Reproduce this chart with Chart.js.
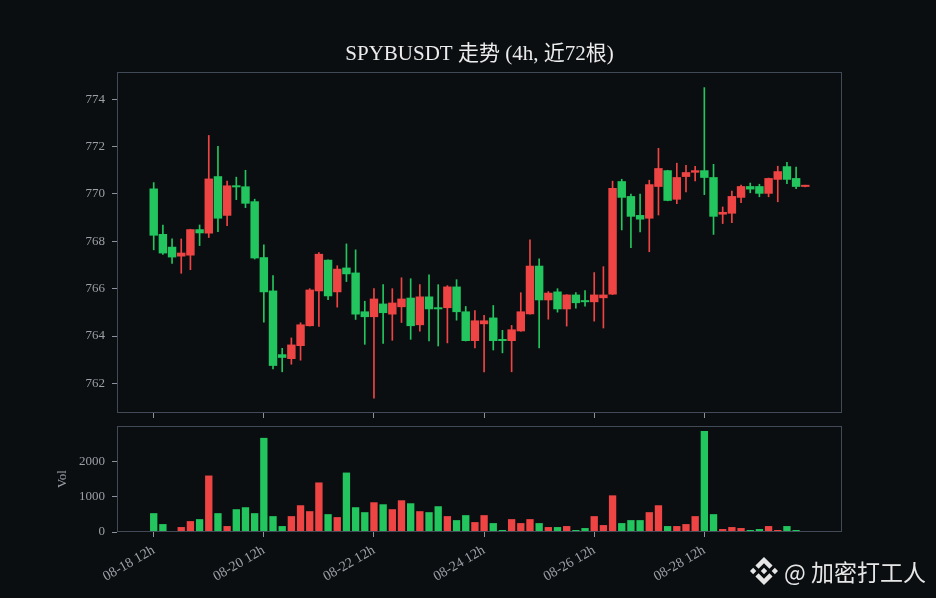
<!DOCTYPE html>
<html>
<head>
<meta charset="utf-8">
<script src="https://cdn.jsdelivr.net/npm/chart.js@4.4.1/dist/chart.umd.min.js"></script>
<style>
  html, body { margin:0; padding:0; background:#0b0e11; width:936px; height:598px; overflow:hidden; }
  canvas { position:absolute; left:0; }
  #c1 { top:0; }
  #c2 { top:420px; }
  #wm { position:absolute; left:750px; top:557px; height:28px; display:flex; align-items:center; color:#e6e6e6;
        font-family:'Noto Sans CJK SC','Noto Sans',sans-serif; font-size:23px; line-height:1; white-space:nowrap; }
  #wm svg { width:28px; height:28px; margin-right:6px; }
</style>
</head>
<body>
<canvas id="c1" width="936" height="420"></canvas>
<canvas id="c2" width="936" height="178"></canvas>
<div id="wm"><svg viewBox="0 0 24 24"><path fill="#e6e6e6" d="M16.624 13.9202l2.7175 2.7154-7.353 7.353-7.353-7.352 2.7175-2.7164 4.6355 4.6595 4.6356-4.6595zm4.6366-4.6366L24 12l-2.7154 2.7164L18.5682 12l2.6924-2.7164zm-9.272.001l2.7163 2.6914-2.7164 2.7174v-.001L9.2721 12l2.7164-2.7154zm-9.2722-.001L5.4088 12l-2.6914 2.6924L0 12l2.7164-2.7164zM11.9885.0115l7.353 7.329-2.7174 2.7154-4.6356-4.6356-4.6355 4.6595-2.7174-2.7154 7.353-7.353z"/></svg><span>@ 加密打工人</span></div>
<script>
// ---- data (72 x 4h candles) ----
const opens  = [770.23,768.31,767.77,767.36,767.40,768.51,768.33,770.75,769.08,770.36,
                770.32,769.69,767.33,765.92,763.23,763.03,763.58,764.42,765.89,767.22,
                765.85,766.89,766.68,765.04,764.80,765.37,764.91,765.22,765.62,764.46,
                765.67,765.20,765.18,766.09,765.04,763.79,764.50,764.78,763.86,763.79,
                764.20,764.92,766.97,765.51,765.88,765.13,765.75,765.51,765.43,765.60,
                765.75,770.54,769.91,769.11,768.96,770.30,771.00,769.76,770.72,770.90,
                771.00,770.71,769.13,769.17,769.84,770.33,770.33,770.01,770.60,771.17,
                770.67,770.30];
const highs  = [770.48,768.69,768.10,768.10,768.51,768.69,772.47,772.01,770.54,770.71,
                771.00,769.78,767.85,766.55,763.48,763.92,764.56,766.00,767.52,767.22,
                766.97,767.89,767.64,765.47,766.00,766.17,766.00,766.46,766.42,766.17,
                766.59,766.17,766.13,766.38,765.25,765.08,764.87,765.29,764.24,764.45,
                765.83,768.06,767.26,765.88,766.00,765.75,765.83,765.92,766.68,766.93,
                770.54,770.62,769.99,769.99,770.58,771.93,771.00,771.30,771.21,771.17,
                774.49,771.25,769.45,770.12,770.37,770.46,770.41,770.67,771.17,771.34,
                771.13,770.37];
const lows   = [767.64,767.45,767.07,766.65,766.80,767.82,768.16,768.41,768.66,769.76,
                769.42,767.25,764.59,762.61,762.49,762.81,762.98,764.42,764.41,765.54,
                765.22,766.30,764.70,763.65,761.38,763.69,763.82,764.57,763.86,764.21,
                763.79,763.58,763.71,764.67,763.79,763.50,762.49,763.41,763.29,762.49,
                764.20,764.92,763.50,764.71,765.01,764.42,765.18,765.26,764.63,764.34,
                765.75,768.48,767.73,768.40,767.56,769.11,769.71,769.59,770.09,770.55,
                769.97,768.29,768.75,768.79,769.63,770.05,769.88,769.88,769.67,770.43,
                770.22,770.30];
const closes = [768.24,767.49,767.32,767.52,768.51,768.34,770.65,768.96,770.36,770.28,
                769.59,767.28,765.85,762.74,763.08,763.64,764.49,765.96,767.47,765.68,
                766.84,766.61,764.91,764.80,765.58,764.97,765.41,765.58,764.42,765.67,
                765.13,765.13,766.09,765.01,763.79,764.66,764.66,763.79,763.79,764.28,
                765.04,766.97,765.51,765.83,765.13,765.75,765.39,765.43,765.75,765.75,
                770.25,769.84,769.04,768.92,770.41,771.09,769.71,770.71,770.92,771.00,
                770.68,769.04,769.24,769.91,770.33,770.19,770.01,770.67,770.96,770.60,
                770.30,770.37];
const volumes = [533,224,28,140,308,364,1598,533,168,645,
                 701,533,2664,449,168,449,757,589,1402,505,
                 421,1682,701,561,841,785,645,897,813,589,
                 561,729,449,336,477,280,477,252,56,364,
                 252,364,252,140,140,168,56,112,449,196,
                 1037,252,336,336,561,757,168,168,224,449,
                 2860,505,84,140,112,56,84,168,56,168,
                 56,5];
const tickIndex  = [0,12,24,36,48,60];
const tickLabels = ['08-18 12h','08-20 12h','08-22 12h','08-24 12h','08-26 12h','08-28 12h'];
const priceTicks = [762,764,766,768,770,772,774];
const volTicks   = [0,1000,2000];
const titleText  = 'SPYBUSDT 走势 (4h, 近72根)';

// ---- styling ----
const UP = '#ef4444', DOWN = '#22c55e';
const TXT = '#9aa0a6', TICK = '#8b929c', BOX = '#434a57';
Chart.defaults.font.family = "'Liberation Serif','Noto Sans CJK SC',serif";
Chart.defaults.color = TXT;

const colors = closes.map((c,i) => c >= opens[i] ? UP : DOWN);
const bodyData = opens.map((o,i) => ({x:i, y:[Math.min(o,closes[i]), Math.max(o,closes[i])]}));
const wickData = lows.map((l,i) => ({x:i, y:[l, highs[i]]}));
const volData  = volumes.map((v,i) => ({x:i, y:v}));

const boxPlugin = {
  id:'box',
  afterDraw(chart){
    const {ctx, chartArea:a} = chart;
    ctx.save();
    ctx.strokeStyle = BOX; ctx.lineWidth = 1;
    ctx.strokeRect(Math.round(a.left)+0.5, Math.round(a.top)+0.5, Math.round(a.right-a.left)-1, Math.round(a.bottom-a.top)-1);
    ctx.restore();
  }
};
function zeroPad(s){ s.paddingTop=0; s.paddingBottom=0; s.paddingLeft=0; s.paddingRight=0; }

const xBase = {
  type:'linear', min:-4, max:75, offset:false,
  grid:{display:true, drawOnChartArea:false, drawTicks:true, tickLength:5, color:TICK, offset:false},
  border:{display:false},
  afterBuildTicks: s => { s.ticks = tickIndex.map(v => ({value:v})); }
};

new Chart(document.getElementById('c1'), {
  type:'bar',
  data:{ datasets:[
    {label:'wick', data:wickData, backgroundColor:colors, barThickness:1, grouped:false, order:2},
    {label:'body', data:bodyData, backgroundColor:colors, barPercentage:0.92, categoryPercentage:1, grouped:false, order:1, minBarLength:2}
  ]},
  options:{
    responsive:false, animation:false,
    layout:{padding:{left:0, right:94, top:0, bottom:0}},
    plugins:{
      legend:{display:false}, tooltip:{enabled:false},
      title:{display:true, fullSize:false, text:titleText, color:'#ececec', font:{size:21, weight:'normal'}, padding:{top:42, bottom:4.8}}
    },
    scales:{
      x: Object.assign({}, xBase, {
        ticks:{display:false},
        afterFit: s => { s.height = 7; zeroPad(s); }
      }),
      y:{
        min:760.75, max:775.15,
        grid:{drawOnChartArea:false, tickLength:5, color:TICK},
        border:{display:false},
        ticks:{color:TXT, font:{size:13}, padding:7},
        afterBuildTicks: s => { s.ticks = priceTicks.map(v => ({value:v})); },
        afterFit: s => { s.width = 117; zeroPad(s); }
      }
    }
  },
  plugins:[boxPlugin]
});

new Chart(document.getElementById('c2'), {
  type:'bar',
  data:{ datasets:[
    {label:'Vol', data:volData, backgroundColor:colors, barPercentage:0.8, categoryPercentage:1}
  ]},
  options:{
    responsive:false, animation:false,
    layout:{padding:{left:0, right:94, top:6, bottom:0}},
    plugins:{ legend:{display:false}, tooltip:{enabled:false} },
    scales:{
      x: Object.assign({}, xBase, {
        ticks:{display:true, autoSkip:false, minRotation:30, maxRotation:30, color:TXT, font:{size:14}, padding:5,
               callback: v => { const k = tickIndex.indexOf(v); return k >= 0 ? tickLabels[k] : ''; }},
        afterFit: s => { s.height = 66; zeroPad(s); }
      }),
      y:{
        min:0, max:3000,
        grid:{drawOnChartArea:false, tickLength:5, color:TICK},
        border:{display:false},
        ticks:{color:TXT, font:{size:13}, padding:7, callback: v => String(v)},
        title:{display:true, text:'Vol', color:TXT, font:{size:13}, padding:{top:55, bottom:0}},
        afterBuildTicks: s => { s.ticks = volTicks.map(v => ({value:v})); },
        afterFit: s => { s.width = 117; zeroPad(s); }
      }
    }
  },
  plugins:[boxPlugin]
});
</script>
</body>
</html>
